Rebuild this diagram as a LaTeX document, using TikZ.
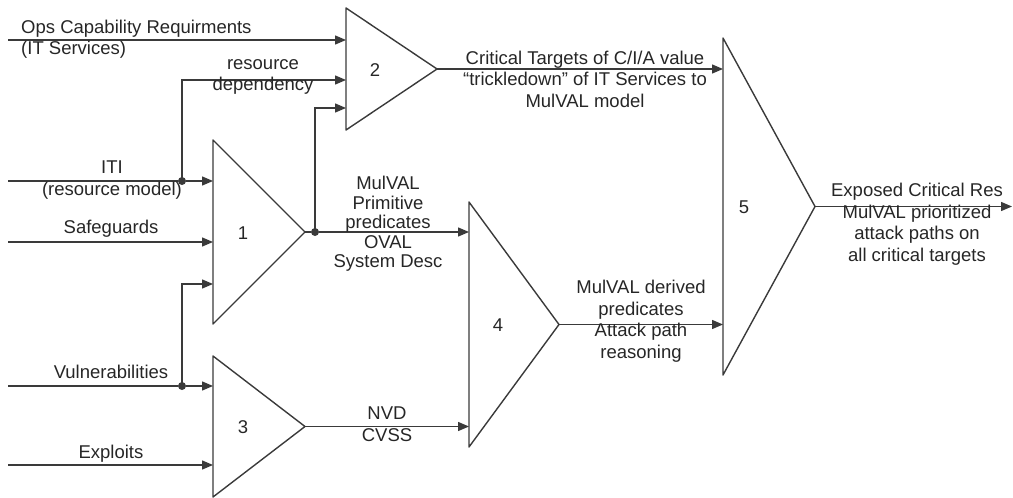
\documentclass[tikz,border=0pt]{standalone}
\usepackage{fontspec}
\setmainfont{Liberation Sans}
\usetikzlibrary{arrows.meta}
\definecolor{linec}{HTML}{3A3A3A}
\definecolor{textc}{HTML}{262626}
\begin{document}
\begin{tikzpicture}[x=1pt,y=-1pt,
  wire/.style={draw=linec, line width=1.4pt},
  feed/.style={wire, -{Triangle[length=11pt,width=9pt]}},
  stage/.style={draw=linec, line width=1.4pt, line join=round},
  lbl/.style={font=\fontsize{18.5}{21.5}\selectfont, text=textc, align=center, inner sep=0pt},
  num/.style={font=\fontsize{18.5}{21.5}\selectfont, text=textc, inner sep=0pt},
  junction/.style={circle, fill=linec, inner sep=0pt, minimum size=8pt}
]
\useasboundingbox (0,0) rectangle (1013,498);

% ---- process stages (triangles) ----
\coordinate (s1t) at (213,140); \coordinate (s1b) at (213,324); \coordinate (s1o) at (305,232);
\coordinate (s2t) at (346,8);   \coordinate (s2b) at (346,130); \coordinate (s2o) at (437,69);
\coordinate (s3t) at (213,356); \coordinate (s3b) at (213,497); \coordinate (s3o) at (305,426.5);
\coordinate (s4t) at (469,202); \coordinate (s4b) at (469,447); \coordinate (s4o) at (559,324.5);
\coordinate (s5t) at (723,38);  \coordinate (s5b) at (723,375); \coordinate (s5o) at (815,206.5);

\draw[stage] (s1t) -- (s1b) -- (s1o) -- cycle;
\draw[stage] (s2t) -- (s2b) -- (s2o) -- cycle;
\draw[stage] (s3t) -- (s3b) -- (s3o) -- cycle;
\draw[stage] (s4t) -- (s4b) -- (s4o) -- cycle;
\draw[stage] (s5t) -- (s5b) -- (s5o) -- cycle;

\node[num] (n1) at (243,233) {1};
\node[num] (n2) at (375,70) {2};
\node[num] (n3) at (243,427) {3};
\node[num] (n4) at (498,325) {4};
\node[num] (n5) at (744,207) {5};

% ---- input points on the stages ----
\coordinate (s2a) at (346,40);
\coordinate (s2m) at (346,80);
\coordinate (s2c) at (346,108);
\coordinate (s1a) at (213,181);
\coordinate (s1m) at (213,242);
\coordinate (s1c) at (213,284);
\coordinate (s3a) at (213,386);
\coordinate (s3c) at (213,465);
\coordinate (s4a) at (469,232);
\coordinate (s4c) at (469,426.5);
\coordinate (s5a) at (723,69);
\coordinate (s5c) at (723,324.5);

% ---- external sources and the final sink ----
\coordinate (opsin) at (8,40);
\coordinate (itiin) at (8,181);
\coordinate (safein) at (8,242);
\coordinate (vulnin) at (8,386);
\coordinate (expin) at (8,465);
\coordinate (out) at (1012,206.5);

% ---- junctions ----
\node[junction] (jiti) at (182,181) {};
\node[junction] (jprim) at (315,232) {};
\node[junction] (jvuln) at (182,386) {};

% ---- connectors ----
\draw[feed] (opsin) -- (s2a);
\draw[wire] (itiin) -- (jiti);
\draw[feed] (jiti) -- (s1a);
\draw[feed] (jiti.center) |- (s2m);
\draw[feed] (safein) -- (s1m);
\draw[wire] (vulnin) -- (jvuln);
\draw[feed] (jvuln) -- (s3a);
\draw[feed] (jvuln.center) |- (s1c);
\draw[feed] (expin) -- (s3c);
\draw[wire] (s1o) -- (jprim);
\draw[feed] (jprim) -- (s4a);
\draw[feed] (jprim.center) |- (s2c);
\draw[feed] (s3o) -- (s4c);
\draw[feed] (s2o) -- (s5a);
\draw[feed] (s4o) -- (s5c);
\draw[feed] (s5o) -- (out);

% ---- labels ----
\node[lbl, align=left, anchor=west] (lops) at (21,39) {Ops Capability Requirments\\(IT Services)};
\node[lbl] (lres) at (263,77) {resource\\dependency};
\node[lbl] (liti) at (112,180) {ITI\\(resource model)};
\node[lbl] (lsafe) at (111,229) {Safeguards};
\node[lbl] (lvuln) at (111,372) {Vulnerabilities};
\node[lbl] (lexp) at (111,454) {Exploits};
\node[lbl, font=\fontsize{18.5}{19.5}\selectfont] (lprim) at (388,224) {MulVAL\\Primitive\\predicates\\OVAL\\System Desc};
\node[lbl] (lnvd) at (387,424) {NVD\\CVSS};
\node[lbl] (lcrit) at (585,79) {Critical Targets of C/I/A value\\“trickledown” of IT Services to\\MulVAL model};
\node[lbl] (lder) at (641,321) {MulVAL derived\\predicates\\Attack path\\reasoning};
\node[lbl] (lexpo) at (917,224) {Exposed Critical Res\\MulVAL prioritized\\attack paths on\\all critical targets};
\end{tikzpicture}
\end{document}
